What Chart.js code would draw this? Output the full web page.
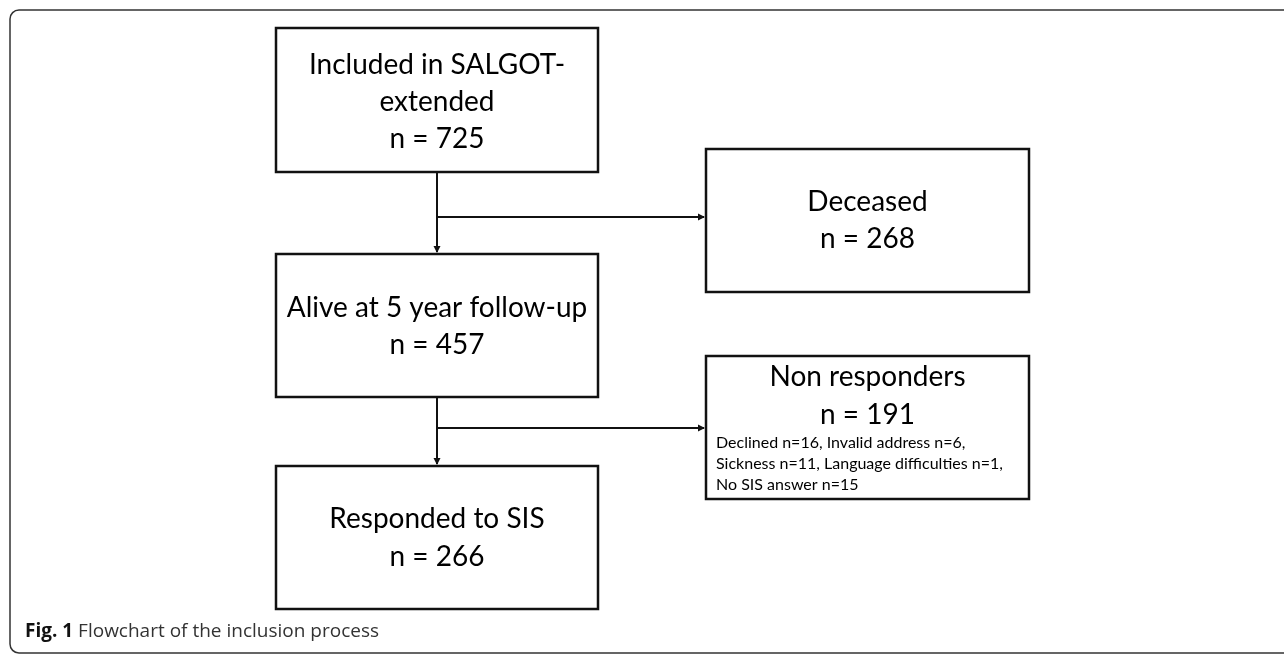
<!DOCTYPE html>
<html>
<head>
<meta charset="utf-8">
<script src="https://cdn.jsdelivr.net/npm/chart.js@4.4.1/dist/chart.umd.min.js"></script>
<style>
  html, body { margin: 0; padding: 0; background: #fff; }
  canvas { display: block; }
</style>
</head>
<body>
<canvas id="flow" width="1284" height="655"></canvas>
<script>
// flowchart content
const nodeTitles = [
    ['Included in SALGOT-', 'extended'],
    ['Deceased'],
    ['Alive at 5 year follow-up'],
    ['Non responders'],
    ['Responded to SIS']
];
const nodeCounts = [725, 268, 457, 191, 266];
const reasonLabels = ['Declined', 'Invalid address', 'Sickness', 'Language difficulties', 'No SIS answer'];
const reasonCounts = [16, 6, 11, 1, 15];
const reasonRows = [[0, 1], [2, 3], [4]];
const links = [[0, 2, 1], [2, 4, 3]]; // from, down to, side branch
const caption = ['Fig. 1', 'Flowchart of the inclusion process'];

// layout, in page units (x0, y0, x1, y1)
const boxes = [
    [276, 28, 598, 172],
    [706, 149, 1029, 292],
    [276, 254, 598, 397],
    [706, 356, 1029, 499],
    [276, 466, 598, 609]
];
const lineY = [
    [65, 102, 139],
    [202, 239],
    [308, 345],
    [377, 415],
    [519, 557]
];
const noteY = [443, 464, 485];
const branchY = [217, 428];

const $ = id => document.getElementById(id);
const FONT = 'Lato, "Open Sans", sans-serif';

const flowPlugin = {
    id: 'flow',
    afterDraw(chart) {
        const { ctx, scales: { x, y } } = chart;
        const px = v => x.getPixelForValue(v);
        const py = v => y.getPixelForValue(v);
        ctx.save();

        // outer frame
        ctx.strokeStyle = '#333';
        ctx.lineWidth = 1.5;
        ctx.beginPath();
        ctx.roundRect(px(10), py(10), px(1300) - px(10), py(653) - py(10), 9);
        ctx.stroke();

        // boxes
        ctx.strokeStyle = '#111';
        ctx.lineWidth = 2.5;
        boxes.forEach(b => {
            ctx.strokeRect(px(b[0]), py(b[1]), px(b[2]) - px(b[0]), py(b[3]) - py(b[1]));
        });

        // connectors
        ctx.lineWidth = 2;
        ctx.fillStyle = '#111';
        const arrow = (tx, ty, dir) => {
            ctx.beginPath();
            if (dir === 'down') {
                ctx.moveTo(tx, ty); ctx.lineTo(tx - 3.5, ty - 7); ctx.lineTo(tx + 3.5, ty - 7);
            } else {
                ctx.moveTo(tx, ty); ctx.lineTo(tx - 7, ty - 3.5); ctx.lineTo(tx - 7, ty + 3.5);
            }
            ctx.closePath(); ctx.fill();
        };
        links.forEach(([from, to, side], i) => {
            const a = boxes[from], b = boxes[to], s = boxes[side];
            const cx = px((a[0] + a[2]) / 2);
            ctx.beginPath();
            ctx.moveTo(cx, py(a[3]));
            ctx.lineTo(cx, py(b[1]) - 2);
            ctx.moveTo(cx, py(branchY[i]));
            ctx.lineTo(px(s[0]) - 2, py(branchY[i]));
            ctx.stroke();
            arrow(cx, py(b[1]) - 1, 'down');
            arrow(px(s[0]) - 1, py(branchY[i]), 'right');
        });

        // box texts
        ctx.fillStyle = '#000';
        ctx.textAlign = 'center';
        ctx.textBaseline = 'middle';
        nodeTitles.forEach((lines, i) => {
            const b = boxes[i];
            const cx = px((b[0] + b[2]) / 2);
            const all = lines.concat('n = ' + nodeCounts[i]);
            ctx.font = '28px ' + FONT;
            all.forEach((t, k) => ctx.fillText(t, cx, py(lineY[i][k])));
        });

        // reasons in the non responder box
        ctx.textAlign = 'left';
        ctx.font = '16px ' + FONT;
        reasonRows.forEach((row, k) => {
            const t = row.map(j => reasonLabels[j] + ' n=' + reasonCounts[j]).join(', ') + (k < reasonRows.length - 1 ? ',' : '');
            ctx.fillText(t, px(boxes[3][0] + 10), py(noteY[k]));
        });

        // caption
        ctx.font = 'bold 19px "Open Sans", sans-serif';
        ctx.fillStyle = '#111';
        ctx.fillText(caption[0], px(25), py(632));
        const w = ctx.measureText(caption[0] + ' ').width;
        ctx.font = '19px "Open Sans", sans-serif';
        ctx.fillStyle = '#333';
        ctx.fillText(caption[1], px(25) + w, py(632));

        ctx.restore();
    }
};

new Chart($('flow'), {
    type: 'scatter',
    data: { datasets: [] },
    options: {
        responsive: false,
        animation: false,
        layout: { padding: 0 },
        plugins: { legend: { display: false }, tooltip: { enabled: false } },
        scales: {
            x: { type: 'linear', min: 0, max: 1284, display: false },
            y: { type: 'linear', min: 0, max: 655, reverse: true, display: false }
        }
    },
    plugins: [flowPlugin]
});
</script>
</body>
</html>
